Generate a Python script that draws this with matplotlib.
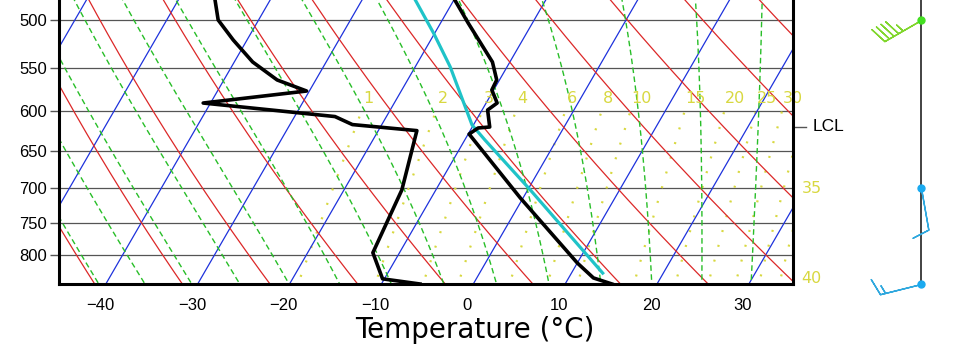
import numpy
import matplotlib
matplotlib.use('Agg')
import matplotlib.pyplot as plt
import matplotlib.transforms as transforms
from matplotlib.ticker import NullLocator

# SOUNDING
temp_p = [847.7, 837.5, 812.8, 713.7, 628.1, 620.5, 619.3, 598.6, 590.3, 575.1, 563.7, 543.8, 503.0, 480.4]
temp_t = [15.1, 12.7, 10.0, -0.3, -9.9, -9.3, -8.1, -9.4, -8.8, -10.2, -10.3, -11.9, -17.0, -19.9]

dew_p = [847.7, 839.0, 796.3, 702.4, 623.8, 616.3, 606.5, 590.3, 576.3, 563.7, 543.8, 520.4, 500.0, 480.4]
dew_t = [-5.8, -10.2, -12.9, -13.7, -15.8, -23.2, -25.6, -40.8, -30.3, -34.2, -38.0, -41.5, -44.4, -46.0]

parcel_p = [829.4, 702.5, 635.6, 616.8, 549.0, 513.5, 480.4]
parcel_t = [13.4, 0.3, -7.8, -10.15, -16.2, -20.1, -24.2]

lcl_p = 619.0

# wind barbs (kt)
wind_p = [500.0, 700.0, 847.7]
wind_dir = [240.0, 170.0, 256.0]
wind_spd = [45.0, 10.0, 15.0]
wind_col = ['#80d62c', '#2fa8de', '#2fa8de']
wind_dot = ['#44e022', '#1aaaf0', '#1aaaf0']

# background lines
isobars = [500, 550, 600, 650, 700, 750, 800]
isotherms = numpy.arange(-80, 41, 10)
theta_dry = numpy.arange(-40, 121, 10)
theta_w = numpy.arange(-40, 41, 5)
mix_ratio = [1, 2, 3, 4, 6, 8, 10, 15, 20, 25, 30, 35, 40]
mix_label_p = {35: 700.0, 40: 839.0}
temp_ticks = [-40, -30, -20, -10, 0, 10, 20, 30]

P_BOT = 847.7
P_TOP = 480.4
SKEW = 31.5
P_REF = 865.0
YELLOW = '#d8d840'


def skew_x(t, p):
    return numpy.asarray(t) + SKEW * numpy.log(P_REF / numpy.asarray(p))


def moist_rate(T, p):
    es = 6.112 * numpy.exp(17.67 * (T - 273.15) / (T - 29.65))
    rs = 0.622 * es / (p - es)
    return (287.04 * T + 2.501e6 * rs) / (1005.7 + 2.501e6 ** 2 * rs * 0.622 / (287.04 * T ** 2))


def moist_adiabats(tw, lnp):
    T = numpy.array(tw, dtype=float) + 273.15
    out = [T.copy()]
    for i in range(1, len(lnp)):
        h = lnp[i] - lnp[i - 1]
        p1 = numpy.exp(lnp[i - 1])
        pm = numpy.exp(lnp[i - 1] + h / 2)
        p2 = numpy.exp(lnp[i])
        k1 = moist_rate(T, p1)
        k2 = moist_rate(T + h / 2 * k1, pm)
        k3 = moist_rate(T + h / 2 * k2, pm)
        k4 = moist_rate(T + h * k3, p2)
        T = T + h / 6 * (k1 + 2 * k2 + 2 * k3 + k4)
        out.append(T.copy())
    return numpy.array(out) - 273.15


def dewpoint_for_mr(w, p):
    e = (w / 1000.0) * p / (0.622 + w / 1000.0)
    a = numpy.log(e / 6.112)
    return 243.5 * a / (17.67 - a)


fig = plt.figure(figsize=(9.6, 3.51), dpi=100)
ax = fig.add_axes([59 / 960, 67 / 351, 734 / 960, 284 / 351])
ax.set_yscale('log')

pp = numpy.exp(numpy.linspace(numpy.log(860), numpy.log(470), 200))

# isobars
for p in isobars:
    ax.axhline(p, color='#555555', lw=0.9, zorder=1)

# isotherms
for t in isotherms:
    ax.plot(skew_x(numpy.full_like(pp, t), pp), pp, color='#1e32dc', lw=0.9, zorder=1.2)

# dry adiabats
for th in theta_dry:
    tt = (th + 273.15) * (pp / 1000.0) ** 0.2857 - 273.15
    ax.plot(skew_x(tt, pp), pp, color='#dc2828', lw=0.9, zorder=1.2)

# moist adiabats
lnp = numpy.linspace(numpy.log(1000.0), numpy.log(470.0), 600)
mt = moist_adiabats(theta_w, lnp)
pm = numpy.exp(lnp)
for j in range(len(theta_w)):
    ax.plot(skew_x(mt[:, j], pm), pm, color='#28be28', lw=1.0, ls=(0, (4, 2.5)), zorder=1.3)

# mixing ratio lines
pw = numpy.exp(numpy.linspace(numpy.log(860), numpy.log(600), 60))
tr = transforms.blended_transform_factory(ax.transAxes, ax.transData)
for w in mix_ratio:
    ax.plot(skew_x(dewpoint_for_mr(w, pw), pw), pw, color=YELLOW, lw=1.6,
            ls=(0, (0.9, 6)), zorder=1.1)
    if w in mix_label_p:
        ax.annotate(str(w), (1.0, mix_label_p[w]), xycoords=tr, xytext=(6, 0),
                    textcoords='offset points', color=YELLOW, fontsize=11.5,
                    ha='left', va='center', family='DejaVu Sans', annotation_clip=False)
        continue
    xl = skew_x(dewpoint_for_mr(w, 585.0), 585.0)
    ax.annotate(str(w), (xl, 585.0), xytext=(-2, 0), textcoords='offset points',
                color=YELLOW, fontsize=11.5, ha='left', va='center',
                family='DejaVu Sans', zorder=2)

# profiles
ax.plot(skew_x(parcel_t, parcel_p), parcel_p, color='#1fc3c8', lw=2.3, zorder=4)
ax.plot(skew_x(temp_t, temp_p), temp_p, color='black', lw=2.6, zorder=5)
ax.plot(skew_x(dew_t, dew_p), dew_p, color='black', lw=2.6, zorder=5)

# LCL
ax.plot([1.0, 1.018], [lcl_p, lcl_p], color='#555555', lw=1.0, transform=tr, clip_on=False)
ax.text(1.027, lcl_p, 'LCL', transform=tr, fontsize=12.5, ha='left', va='center',
        family='Liberation Sans')

ax.set_ylim(P_BOT, P_TOP)
ax.set_xlim(-44.46, 35.44)
ax.yaxis.set_minor_locator(NullLocator())
ax.set_yticks(isobars)
ax.set_yticklabels([str(p) for p in isobars], family='Liberation Sans', fontsize=12)
ax.set_xticks(temp_ticks)
ax.set_xticklabels([str(t).replace('-', '\u2212') for t in temp_ticks], family='Liberation Sans', fontsize=12)
ax.tick_params(axis='y', length=6.5, width=1, color='#555555', pad=2)
ax.tick_params(axis='x', length=0, pad=10)
ax.spines['top'].set_visible(False)
for s in ['left', 'bottom', 'right']:
    ax.spines[s].set_linewidth(2.2)

fig.text(475 / 960, 1 - 330 / 351, 'Temperature (\u00b0C)', fontsize=20, ha='center', va='center')

# WIND PANEL
axw = fig.add_axes([860 / 960, 67 / 351, 100 / 960, 284 / 351])
axw.set_yscale('log')
axw.set_ylim(P_BOT, P_TOP)
axw.set_xlim(0, 1)
axw.axis('off')
axw.axvline(0.61, color='#222222', lw=1.2)
for i in range(len(wind_p)):
    d = numpy.radians(wind_dir[i])
    u = -wind_spd[i] * numpy.sin(d)
    v = -wind_spd[i] * numpy.cos(d)
    axw.barbs([0.61], [wind_p[i]], [u], [v], length=7.8, color=wind_col[i], linewidth=1.0,
              clip_on=False, zorder=3)
    axw.plot([0.61], [wind_p[i]], 'o', color=wind_dot[i], markersize=5, clip_on=False, zorder=4)

plt.savefig('out.png', dpi=100)
